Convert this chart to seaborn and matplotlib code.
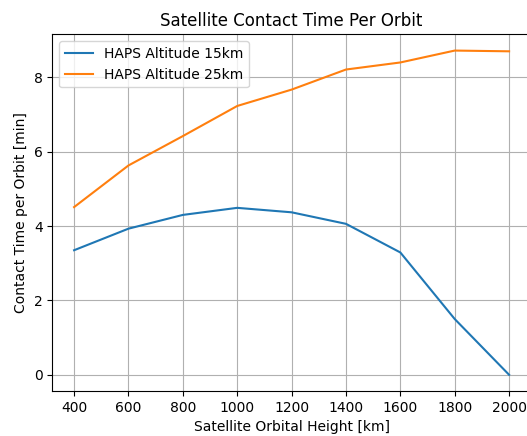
import matplotlib
matplotlib.use("Agg")
import matplotlib.pyplot as plt
import pandas as pd
import seaborn as sns

# Satellite orbital heights [km]
heights = [400, 600, 800, 1000, 1200, 1400, 1600, 1800, 2000]

# Contact time per orbit [min] for each HAPS altitude
contact_15km = [3.35, 3.93, 4.30, 4.49, 4.37, 4.06, 3.29, 1.50, 0.0]
contact_25km = [4.51, 5.63, 6.42, 7.23, 7.67, 8.21, 8.40, 8.72, 8.70]

series_labels = ["HAPS Altitude 15km", "HAPS Altitude 25km"]

df = pd.concat([
    pd.DataFrame({"height": heights, "contact": contact_15km, "series": series_labels[0]}),
    pd.DataFrame({"height": heights, "contact": contact_25km, "series": series_labels[1]}),
])

fig = plt.figure(figsize=(5.27, 4.36), dpi=100)
ax = fig.add_axes([0.0993, 0.1032, 0.908, 0.818])

sns.lineplot(data=df, x="height", y="contact", hue="series",
             palette=["#1f77b4", "#ff7f0e"], linewidth=1.5, ax=ax)

ax.set_xticks(heights)
ax.grid(True, color="#b0b0b0", linewidth=0.8)
ax.set_title("Satellite Contact Time Per Orbit", fontsize=12)
ax.set_xlabel("Satellite Orbital Height [km]")
ax.set_ylabel("Contact Time per Orbit [min]")
ax.legend(title=None, loc="upper left")

fig.savefig("out.png", dpi=100)
